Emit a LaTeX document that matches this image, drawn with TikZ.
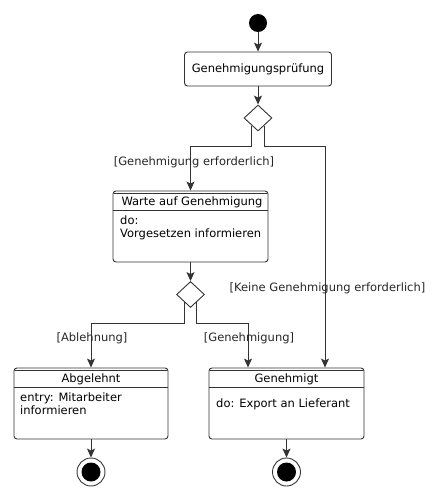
\documentclass[tikz,border=0pt]{standalone}
\usepackage{fontspec}
\setmainfont{DejaVu Sans}
\usetikzlibrary{shapes.geometric,arrows.meta}
\begin{document}
\begin{tikzpicture}[x=1pt,y=-1pt,
  font=\fontsize{11.5}{13.5}\selectfont,
  line/.style={draw=black!80, line width=0.9pt},
  arr/.style={line, -{Stealth[length=9pt,width=8pt,inset=2pt]}},
  startdot/.style={circle, fill=black, minimum size=18pt, inner sep=0pt},
  enddot/.style={circle, line, fill=white, minimum size=28pt, inner sep=0pt,
    path picture={\fill[black] (path picture bounding box.center) circle (9.5pt);}},
  actbox/.style={line, rounded corners=3pt, inner sep=0pt, fill=white},
  statebox/.style={line, rounded corners=3pt, inner sep=0pt},
  choice/.style={diamond, line, fill=white, minimum width=28pt, minimum height=26pt, inner sep=0pt},
  lbl/.style={inner sep=0pt, text=black!85},
  txt/.style={inner sep=0pt, anchor=base west}]
\useasboundingbox (0,0) rectangle (437,500);
\coordinate (k1) at (0,146);
\coordinate (k2) at (0,323);
% nodes
\node[startdot] (start) at (258,23) {};
\node[actbox, minimum width=147pt, minimum height=34pt] (pruef) at (258,69) {Genehmigungsprüfung};
\node[choice] (d1) at (258,118) {};
\node[statebox, minimum width=155pt, minimum height=71pt] (warte) at (190.5,226.5) {};
\node[choice] (d2) at (190.5,294.5) {};
\node[statebox, minimum width=154pt, minimum height=71pt] (abg) at (91,403.5) {};
\node[statebox, minimum width=155pt, minimum height=71pt] (gen) at (286.5,403.5) {};
\node[enddot] (end1) at (91,472) {};
\node[enddot] (end2) at (286.5,472) {};
% compartments
\foreach \b in {warte,abg,gen}{
  \draw[line] ([xshift=1.5pt,yshift=-3pt]\b.north west) -- ([xshift=-1.5pt,yshift=-3pt]\b.north east);
  \draw[line] ([yshift=-20pt]\b.north west) -- ([yshift=-20pt]\b.north east);
}
\node[inner sep=0pt] (wartet) at (192,202.5) {Warte auf Genehmigung};
\node[inner sep=0pt] (abgt) at (91,379.5) {Abgelehnt};
\node[inner sep=0pt] (gent) at (286.5,379.5) {Genehmigt};
\node[txt] (w1) at (120,224) {do:};
\node[txt] (w2) at (120,237) {Vorgesetzen informieren};
\node[txt] (a1) at (20,401) {entry: Mitarbeiter};
\node[txt] (a2) at (20,414) {informieren};
\node[txt] (g1) at (216,407) {do: Export an Lieferant};
% connectors
\draw[arr] (start) -- (pruef);
\draw[arr] (pruef) -- (d1);
\draw[arr] (d1.231) -- (d1.231 |- k1) -| (warte.north);
\draw[arr] (d1.309) -- (d1.309 |- k1) -| ([xshift=38.5pt]gen.north);
\draw[arr] (warte) -- (d2);
\draw[arr] (d2.231) -- (d2.231 |- k2) -| (abg.north);
\draw[arr] (d2.309) -- (d2.309 |- k2) -| ([xshift=-38.5pt]gen.north);
\draw[arr] (abg) -- (end1);
\draw[arr] (gen) -- (end2);
% labels
\node[lbl] (l1) at (194,162) {[Genehmigung erforderlich]};
\node[lbl] (l2) at (327.5,288) {[Keine Genehmigung erforderlich]};
\node[lbl] (l3) at (92,338) {[Ablehnung]};
\node[lbl] (l4) at (249,338) {[Genehmigung]};
\end{tikzpicture}
\end{document}
